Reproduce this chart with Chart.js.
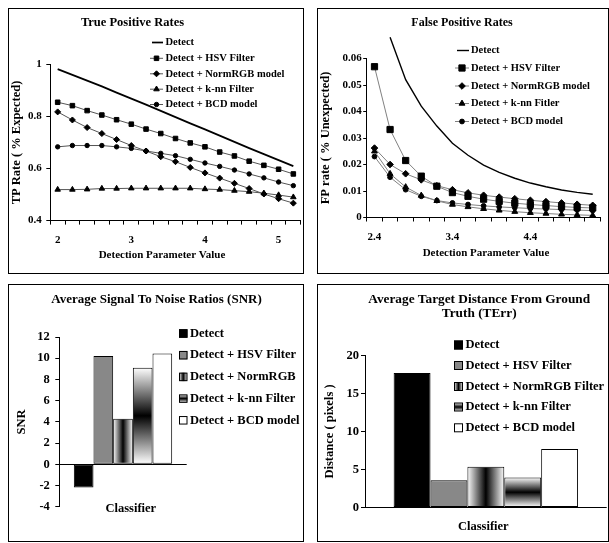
<!DOCTYPE html>
<html><head><meta charset="utf-8">
<script src="https://cdn.jsdelivr.net/npm/chart.js@4/dist/chart.umd.min.js"></script>
<style>
html,body{margin:0;padding:0;background:#fff;}
#wrap{position:relative;width:609px;height:543px;overflow:hidden;background:#fff;}
#wrap canvas{position:absolute;left:0;top:0;}
.frame{position:absolute;border:1.5px solid #000;box-sizing:border-box;}
</style></head><body>
<div id="wrap">
<canvas id="c1" width="609" height="543"></canvas>
<canvas id="c2" width="609" height="543"></canvas>
<canvas id="c3" width="609" height="543"></canvas>
<canvas id="c4" width="609" height="543"></canvas>
<div class="frame" style="left:7.5px;top:8px;width:296.5px;height:266px"></div>
<div class="frame" style="left:316.5px;top:8px;width:292px;height:266px"></div>
<div class="frame" style="left:7.5px;top:284px;width:296.5px;height:258px"></div>
<div class="frame" style="left:316.5px;top:284px;width:292px;height:258px"></div>
</div>
<script>
const FONT = '"Liberation Serif", "Times New Roman", serif';

// ---------------- DATA ----------------
// True positive rates
const tpX = [2, 2.2, 2.4, 2.6, 2.8, 3, 3.2, 3.4, 3.6, 3.8, 4, 4.2, 4.4, 4.6, 4.8, 5, 5.2];
const tpNames = ['Detect', 'Detect + HSV Filter', 'Detect + NormRGB model', 'Detect + k-nn Filter', 'Detect + BCD model'];
const tpDetect = [0.981, 0.959, 0.937, 0.915, 0.891, 0.868, 0.845, 0.821, 0.797, 0.773, 0.750, 0.726, 0.702, 0.678, 0.655, 0.632, 0.609];
const tpHSV    = [0.854, 0.841, 0.822, 0.805, 0.787, 0.770, 0.751, 0.734, 0.715, 0.698, 0.683, 0.663, 0.648, 0.628, 0.612, 0.597, 0.579];
const tpNorm   = [0.817, 0.786, 0.757, 0.734, 0.711, 0.688, 0.667, 0.645, 0.626, 0.604, 0.583, 0.563, 0.543, 0.523, 0.502, 0.484, 0.467];
const tpKnn    = [0.519, 0.519, 0.520, 0.523, 0.523, 0.524, 0.524, 0.524, 0.524, 0.524, 0.521, 0.519, 0.515, 0.511, 0.505, 0.498, 0.490];
const tpBCD    = [0.683, 0.688, 0.688, 0.688, 0.683, 0.677, 0.667, 0.658, 0.649, 0.635, 0.621, 0.608, 0.594, 0.579, 0.564, 0.548, 0.534];
const tpYTicks = [0.4, 0.6, 0.8, 1];

// False positive rates
const fpX = [2.4, 2.6, 2.8, 3, 3.2, 3.4, 3.6, 3.8, 4, 4.2, 4.4, 4.6, 4.8, 5, 5.2];
const fpNames = ['Detect', 'Detect + HSV Filter', 'Detect + NormRGB model', 'Detect + k-nn Fitler', 'Detect + BCD model'];
const fpDetect = [null, 0.068, 0.052, 0.042, 0.0345, 0.028, 0.0235, 0.0198, 0.017, 0.0148, 0.013, 0.0116, 0.0104, 0.0095, 0.0088];
const fpHSV    = [0.0569, 0.0332, 0.0215, 0.0156, 0.0118, 0.0094, 0.0080, 0.0069, 0.0061, 0.0054, 0.0049, 0.0045, 0.0041, 0.0038, 0.0036];
const fpNorm   = [0.0262, 0.0200, 0.0165, 0.0142, 0.0120, 0.0105, 0.0093, 0.0084, 0.0077, 0.0071, 0.0065, 0.0060, 0.0055, 0.0050, 0.0046];
const fpKnn    = [0.0250, 0.0165, 0.0115, 0.0083, 0.0063, 0.0049, 0.0040, 0.0033, 0.0027, 0.0022, 0.0018, 0.0015, 0.0012, 0.0010, 0.0008];
const fpBCD    = [0.0230, 0.0152, 0.0105, 0.0080, 0.0064, 0.0055, 0.0049, 0.0044, 0.0040, 0.0037, 0.0034, 0.0032, 0.0030, 0.0028, 0.0026];
const fpYTicks = [0, 0.01, 0.02, 0.03, 0.04, 0.05, 0.06];

// Average SNR
const snrCats = ['Classifier'];
const snrNames = ['Detect', 'Detect + HSV Filter', 'Detect + NormRGB', 'Detect + k-nn Filter', 'Detect + BCD model'];
const snrValues = [-2.2, 10.2, 4.3, 9.1, 10.45];
const snrYTicks = [-4, -2, 0, 2, 4, 6, 8, 10, 12];

// Average target distance
const terrCats = ['Classifier'];
const terrNames = ['Detect', 'Detect + HSV Filter', 'Detect + NormRGB Filter', 'Detect + k-nn Filter', 'Detect + BCD model'];
const terrValues = [17.7, 3.6, 5.35, 3.95, 7.7];
const terrYTicks = [0, 5, 10, 15, 20];

// ---------------- HELPERS ----------------
const markerStyles = ['circle', 'rect', 'rectRot', 'triangle', 'circle'];
const barFills = ['#000000', '#888888', 'h', 'v', '#ffffff'];

function drawMarker(ctx, style, x, y, r) {
  ctx.beginPath();
  if (style === 'rect') {
    const s = r * Math.SQRT1_2; ctx.rect(x - s, y - s, 2 * s, 2 * s);
  } else if (style === 'rectRot') {
    ctx.moveTo(x - r, y); ctx.lineTo(x, y - r); ctx.lineTo(x + r, y); ctx.lineTo(x, y + r); ctx.closePath();
  } else if (style === 'triangle') {
    let a = 0;
    ctx.moveTo(x + Math.sin(a) * r, y - Math.cos(a) * r);
    a += 2 * Math.PI / 3; ctx.lineTo(x + Math.sin(a) * r, y - Math.cos(a) * r);
    a += 2 * Math.PI / 3; ctx.lineTo(x + Math.sin(a) * r, y - Math.cos(a) * r);
    ctx.closePath();
  } else {
    ctx.arc(x, y, r, 0, Math.PI * 2);
  }
  ctx.fillStyle = '#000'; ctx.strokeStyle = '#000'; ctx.lineWidth = 1;
  ctx.fill(); ctx.stroke();
}

function makeGrad(ctx, dir, l, t, r, b) {
  const g = dir === 'h' ? ctx.createLinearGradient(l, 0, r, 0) : ctx.createLinearGradient(0, t, 0, b);
  g.addColorStop(0, '#ffffff'); g.addColorStop(0.5, '#000000'); g.addColorStop(1, '#ffffff');
  return g;
}

const gradPlugin = {
  id: 'gradFill',
  beforeDatasetsDraw(chart) {
    const ctx = chart.ctx;
    chart.data.datasets.forEach((d, i) => {
      if (d.fillKind !== 'h' && d.fillKind !== 'v') return;
      chart.getDatasetMeta(i).data.forEach(el => {
        const p = el.getProps(['x', 'y', 'base', 'width'], true);
        const l = p.x - p.width / 2, r = p.x + p.width / 2;
        const t = Math.min(p.y, p.base), b = Math.max(p.y, p.base);
        try { el.options.backgroundColor = makeGrad(ctx, d.fillKind, l, t, r, b); } catch (e) {}
      });
    });
  }
};

const decor = {
  id: 'decor',
  afterDraw(chart, args, o) {
    const ctx = chart.ctx;
    ctx.save();
    ctx.textBaseline = 'middle';
    (o.texts || []).forEach(t => {
      ctx.fillStyle = '#000';
      ctx.font = 'bold ' + t.size + 'px ' + FONT;
      ctx.textAlign = 'center';
      if (t.rot) {
        ctx.save(); ctx.translate(t.x, t.y); ctx.rotate(-Math.PI / 2); ctx.fillText(t.text, 0, 0); ctx.restore();
      } else ctx.fillText(t.text, t.x, t.y);
    });
    const lg = o.legend;
    chart.data.datasets.forEach((d, i) => {
      const y = lg.rows[i];
      ctx.save();
      if (lg.kind === 'line') {
        ctx.strokeStyle = d.borderColor; ctx.lineWidth = d.borderWidth;
        ctx.beginPath();
        ctx.moveTo(d.pointRadius === 0 ? lg.iconL + 2 : lg.iconL, y); ctx.lineTo(lg.iconR, y); ctx.stroke();
        if (d.pointRadius > 0) drawMarker(ctx, d.pointStyle, (lg.iconL + lg.iconR) / 2, y, d.pointRadius);
      } else {
        const s = lg.box, l = lg.iconL, t = y - s / 2;
        ctx.fillStyle = (d.fillKind === 'h' || d.fillKind === 'v') ? makeGrad(ctx, d.fillKind, l, t, l + s, t + s) : d.fillKind;
        ctx.fillRect(l, t, s, s);
        ctx.strokeStyle = '#000'; ctx.lineWidth = 1;
        ctx.strokeRect(l + 0.5, t + 0.5, s - 1, s - 1);
      }
      ctx.restore();
      ctx.fillStyle = '#000';
      ctx.font = 'bold ' + lg.size + 'px ' + FONT;
      ctx.textAlign = 'left';
      ctx.fillText(d.label, lg.textX, y);
    });
    ctx.restore();
  }
};

function font(size) { return { family: FONT, weight: 'bold', size: size }; }

function lineChart(id, labels, names, series, look) {
  const datasets = names.map((n, i) => ({
    label: n,
    data: series[i],
    borderColor: i === 0 ? '#000' : look.lineColor,
    borderWidth: i === 0 ? look.detectWidth : 1,
    pointStyle: markerStyles[i],
    pointRadius: i === 0 ? 0 : look.radii[i],
    pointHoverRadius: i === 0 ? 0 : look.radii[i],
    pointBackgroundColor: '#000',
    pointBorderColor: '#000',
    pointBorderWidth: 1,
    tension: 0,
    spanGaps: false,
    clip: i === 0 ? false : 4
  }));
  return new Chart(document.getElementById(id), {
    type: 'line',
    data: { labels: labels, datasets: datasets },
    plugins: [decor],
    options: {
      responsive: false, animation: false, devicePixelRatio: 1, events: [],
      layout: { padding: look.padding },
      plugins: { legend: { display: false }, title: { display: false }, tooltip: { enabled: false }, decor: look.decor },
      scales: {
        x: {
          type: 'category', offset: true,
          afterFit: s => { s.height = 40; },
          grid: { offset: true, drawOnChartArea: false, tickLength: 4, color: '#000', tickColor: '#000' },
          border: { color: '#000', width: 1 },
          ticks: {
            autoSkip: false, maxRotation: 0, minRotation: 0, padding: look.xPad, color: '#000', font: font(11),
            callback: function (v, i) { return i % 5 === 0 ? String(this.getLabelForValue(v)) : ''; }
          }
        },
        y: {
          min: look.yTicks[0], max: look.yTicks[look.yTicks.length - 1],
          afterBuildTicks: s => { s.ticks = look.yTicks.map(v => ({ value: v })); },
          afterFit: s => { s.width = 45; },
          grid: { drawOnChartArea: false, tickLength: look.yTick, color: '#000', tickColor: '#000' },
          border: { color: '#000', width: 1 },
          ticks: { padding: look.yPad, color: '#000', font: font(11), callback: v => String(v) }
        }
      }
    }
  });
}

function barChart(id, cats, names, values, yTicks, look) {
  const datasets = names.map((n, i) => ({
    label: n,
    data: [values[i]],
    fillKind: barFills[i],
    backgroundColor: (barFills[i] === 'h' || barFills[i] === 'v') ? (() => '#ffffff') : barFills[i],
    borderColor: '#000',
    borderWidth: 1,
    borderSkipped: false,
    categoryPercentage: look.catPct,
    barPercentage: 1
  }));
  return new Chart(document.getElementById(id), {
    type: 'bar',
    data: { labels: cats, datasets: datasets },
    plugins: [gradPlugin, decor],
    options: {
      responsive: false, animation: false, devicePixelRatio: 1, events: [],
      layout: { padding: look.padding },
      plugins: { legend: { display: false }, title: { display: false }, tooltip: { enabled: false }, decor: look.decor },
      scales: {
        x: { display: false, offset: true },
        y: {
          min: yTicks[0], max: yTicks[yTicks.length - 1],
          afterBuildTicks: s => { s.ticks = yTicks.map(v => ({ value: v })); },
          afterFit: s => { s.width = 40; },
          grid: {
            drawOnChartArea: true, tickLength: 4, tickColor: '#000',
            color: c => (c.tick && c.tick.value === 0) ? '#000' : 'rgba(0,0,0,0)'
          },
          border: { color: '#000', width: 1 },
          ticks: { padding: look.yPad, color: '#000', font: font(12.5), callback: v => String(v) }
        }
      }
    }
  });
}

// ---------------- CHARTS ----------------
lineChart('c1', tpX, tpNames, [tpDetect, tpHSV, tpNorm, tpKnn, tpBCD], {
  yTicks: tpYTicks, lineColor: '#555555', detectWidth: 1.7,
  radii: [0, 3.2, 3.0, 3.2, 2.2],
  padding: { left: 5.3, right: 308.3, top: 64.2, bottom: 282.4 },
  xPad: 8.5, yPad: 4.5, yTick: 4,
  decor: {
    texts: [
      { text: 'True Positive Rates', x: 132.5, y: 23, size: 12.5 },
      { text: 'TP Rate ( % Expected)', x: 17, y: 142.5, size: 12.5, rot: true },
      { text: 'Detection Parameter Value', x: 162, y: 255.5, size: 11 }
    ],
    legend: { kind: 'line', rows: [42.5, 58.3, 73.8, 89.2, 104.5], iconL: 150, iconR: 163, textX: 165.5, size: 10.5 }
  }
});

lineChart('c2', fpX, fpNames, [fpDetect, fpHSV, fpNorm, fpKnn, fpBCD], {
  yTicks: fpYTicks, lineColor: '#808080', detectWidth: 1.4,
  radii: [0, 4.4, 3.3, 3.4, 2.4],
  padding: { left: 321.7, right: 8.5, top: 58.5, bottom: 285.5 },
  xPad: 9.5, yPad: 1.5, yTick: 3.5,
  decor: {
    texts: [
      { text: 'False Positive Rates', x: 462, y: 23, size: 12 },
      { text: 'FP rate ( % Unexpected)', x: 326, y: 138, size: 12.5, rot: true },
      { text: 'Detection Parameter Value', x: 486, y: 253.5, size: 11 }
    ],
    legend: { kind: 'line', rows: [50.5, 68, 86, 103.5, 121.5], iconL: 455, iconR: 469, textX: 471, size: 10.5 }
  }
});

barChart('c3', snrCats, snrNames, snrValues, snrYTicks, {
  catPct: 0.772,
  padding: { left: 19.3, right: 422.3, top: 337, bottom: 36.3 },
  yPad: 5.5,
  decor: {
    texts: [
      { text: 'Average Signal To Noise Ratios (SNR)', x: 156.5, y: 299.5, size: 13 },
      { text: 'SNR', x: 21.7, y: 422, size: 12.5, rot: true },
      { text: 'Classifier', x: 130.8, y: 508.3, size: 12.5 }
    ],
    legend: { kind: 'box', rows: [333.5, 355.2, 376.9, 398.6, 420.3], iconL: 179, box: 8.5, textX: 190, size: 12.5 }
  }
});

barChart('c4', terrCats, terrNames, terrValues, terrYTicks, {
  catPct: 0.763,
  padding: { left: 325, right: 2.3, top: 355.5, bottom: 35.5 },
  yPad: 2,
  decor: {
    texts: [
      { text: 'Average Target Distance From Ground', x: 479.2, y: 300, size: 13.3 },
      { text: 'Truth (TErr)', x: 479.2, y: 313.5, size: 13.3 },
      { text: 'Distance ( pixels )', x: 330, y: 431.5, size: 12.5, rot: true },
      { text: 'Classifier', x: 483.3, y: 526.7, size: 12.5 }
    ],
    legend: { kind: 'box', rows: [345, 365.5, 386.5, 407, 427.8], iconL: 454, box: 9, textX: 465.5, size: 12.5 }
  }
});
</script>
</body></html>
